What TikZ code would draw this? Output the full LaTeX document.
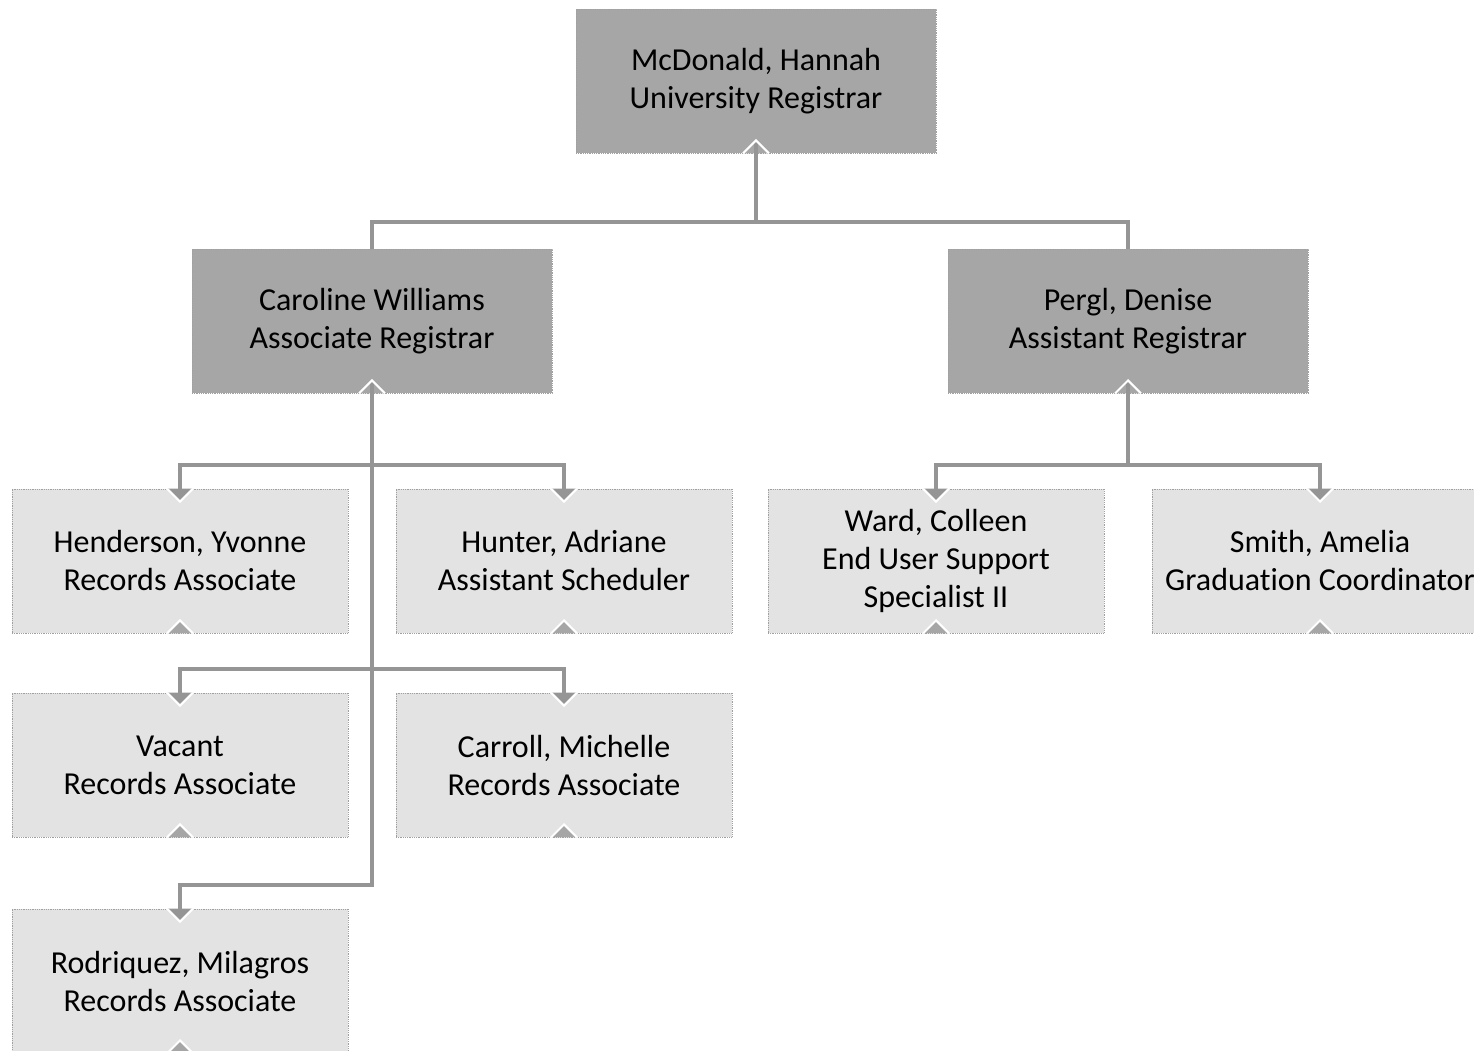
\documentclass[tikz,border=0pt]{standalone}
\usepackage{fontspec}
\setmainfont{Carlito}[Ligatures=NoCommon]
\usetikzlibrary{positioning}
\definecolor{bossgray}{HTML}{A6A6A6}
\definecolor{staffgray}{HTML}{E3E3E3}
\definecolor{linkgray}{HTML}{959595}
\definecolor{rimgray}{HTML}{A0A0A0}
\tikzset{
  bossbox/.style={rectangle, fill=bossgray, draw=rimgray, densely dotted, line width=0.8pt,
    minimum width=360pt, minimum height=144pt, inner sep=0pt, align=center,
    font=\fontsize{32}{38}\selectfont},
  staffbox/.style={bossbox, fill=staffgray, minimum width=336pt},
  link/.style={draw=linkgray, line width=4pt},
  rim/.style={draw=white, line width=2pt}
}
\newcommand{\orgboss}[3] {\node at (#1) (#2) [bossbox] {#3};}
\newcommand{\orgstaff}[3] {\node at (#1) (#2) [staffbox] {#3};}
\newcommand{\orgnotch}[2] {\fill [#2, shift={(#1.south)}] (-13,0) -- (0,13) -- (13,0) -- cycle;}
\newcommand{\orgnotchrim}[1] {\draw [rim, shift={(#1.south)}] (-13,0) -- (0,13) -- (13,0);}
\newcommand{\orgtip}[1] {\fill [linkgray, shift={(#1.north)}] (-13,0) -- (0,-13) -- (13,0) -- cycle;
  \draw [rim, shift={(#1.north)}] (-13,0) -- (0,-13) -- (13,0);}
\newcommand{\orgtransition}[2] {\draw [link] (#1) -- (#2);}
\newcommand{\orgxthree}[3] {\draw [link] (#1) -- (#2) -| (#3);}
\newcommand{\orgrow}[3] {\draw [link] (#1) |- (#2) -| (#3);}

\begin{document}
\begin{tikzpicture}[x=1pt, y=1pt]
\useasboundingbox (0,0) rectangle (1474,-1051);

\orgboss {756,-81}{mcdonald}{McDonald, Hannah\\University Registrar}
\orgboss {372,-321}{caroline}{Caroline Williams\\Associate Registrar}
\orgboss {1128,-321}{pergl}{Pergl, Denise\\Assistant Registrar}

\orgstaff {180,-561}{henderson}{Henderson, Yvonne\\Records Associate}
\orgstaff {564,-561}{hunter}{Hunter, Adriane\\Assistant Scheduler}
\orgstaff {936,-561}{ward}{Ward, Colleen\\End User Support\\Specialist II}
\orgstaff {1320,-561}{smith}{Smith, Amelia\\Graduation Coordinator}
\orgstaff {180,-765}{vacant}{Vacant\\Records Associate}
\orgstaff {564,-765}{carroll}{Carroll, Michelle\\Records Associate}
\orgstaff {180,-981}{rodriquez}{Rodriquez, Milagros\\Records Associate}

% notches under the boxes
\foreach \n in {mcdonald, caroline, pergl} {\orgnotch{\n}{bossgray}}
\foreach \n in {henderson, hunter, ward, smith, vacant, carroll, rodriquez} {\orgnotch{\n}{bossgray}}

% top level
\coordinate (topbus) at (756,-222);
\orgtransition {[yshift=12pt]mcdonald.south}{topbus}
\orgrow {caroline.north}{topbus}{pergl.north}

% associate registrar
\coordinate (carbusA) at (372,-465);
\coordinate (carbusB) at (372,-669);
\coordinate (carspine) at (372,-885);
\orgxthree {[yshift=12pt]caroline.south}{carspine}{rodriquez.north}
\orgrow {henderson.north}{carbusA}{hunter.north}
\orgrow {vacant.north}{carbusB}{carroll.north}

% assistant registrar
\coordinate (perbus) at (1128,-465);
\orgtransition {[yshift=12pt]pergl.south}{perbus}
\orgrow {ward.north}{perbus}{smith.north}

\foreach \n in {mcdonald, caroline, pergl, henderson, hunter, ward, smith, vacant, carroll, rodriquez} {\orgnotchrim{\n}}
\foreach \n in {henderson, hunter, ward, smith, vacant, carroll, rodriquez} {\orgtip{\n}}

\end{tikzpicture}
\end{document}
